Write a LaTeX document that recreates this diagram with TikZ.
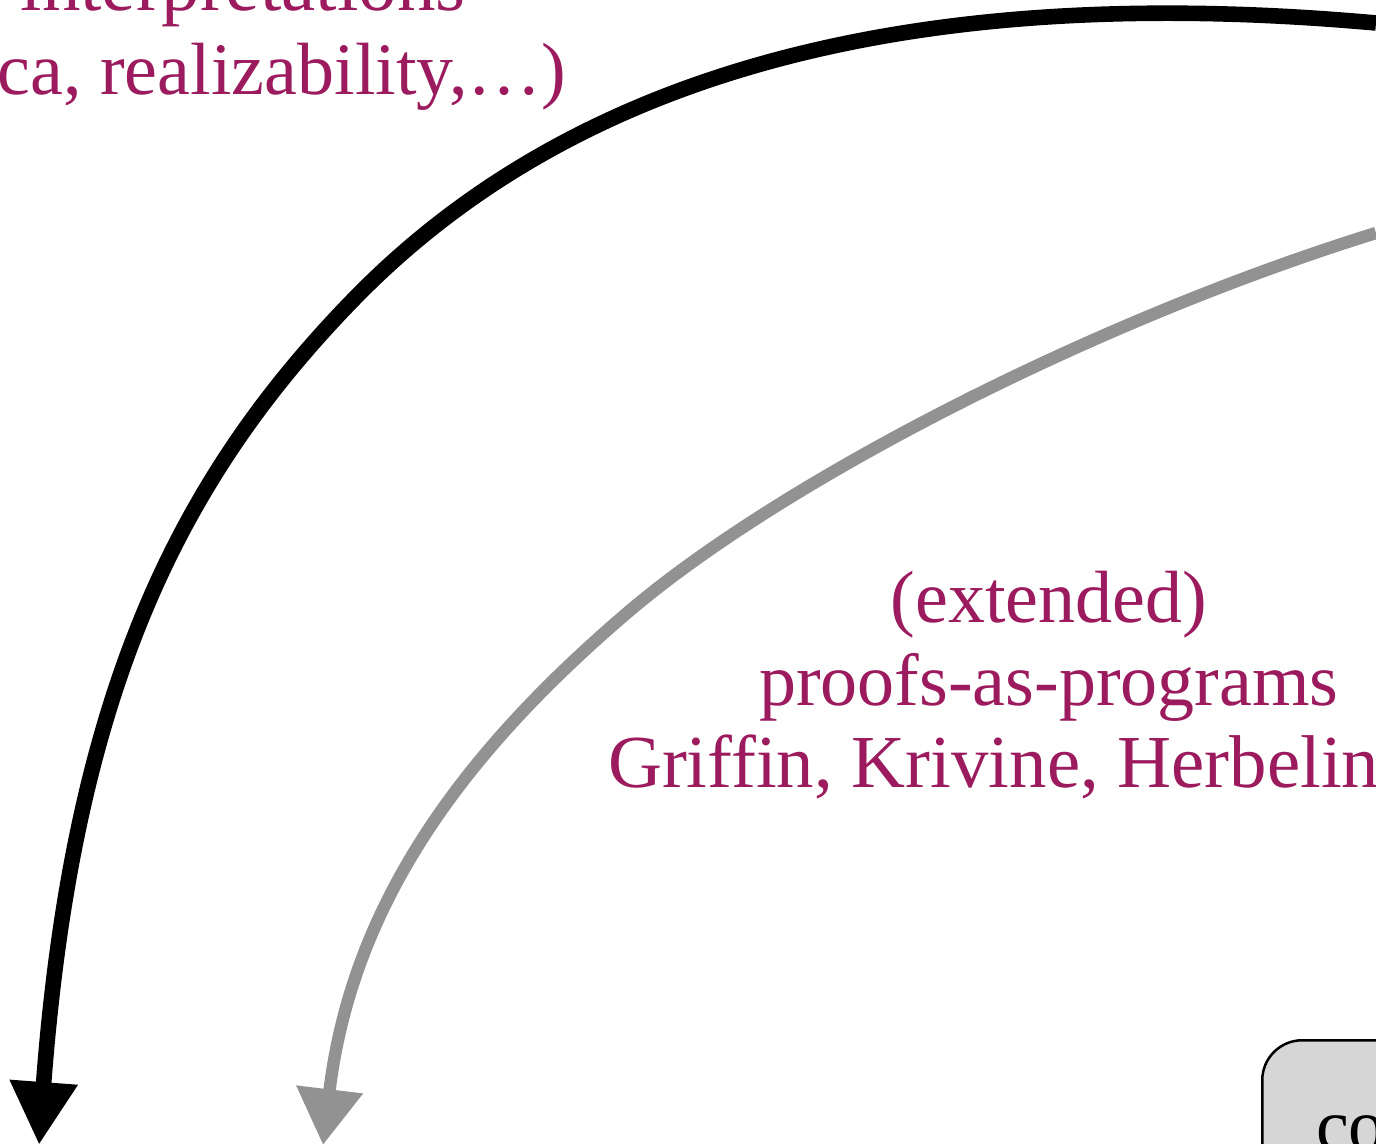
\documentclass[tikz,border=0pt]{standalone}
\usepackage{fontspec}
\setmainfont{Liberation Serif}
\usetikzlibrary{arrows.meta}
\definecolor{plum}{RGB}{155,27,94}
\definecolor{arrowgray}{RGB}{146,146,146}
\definecolor{boxgray}{RGB}{214,214,214}
\begin{document}
\begin{tikzpicture}[x=0.5pt,y=-0.5pt,
  lbl/.style={text=plum, font=\fontsize{37}{41}\selectfont, inner sep=0pt, outer sep=0pt},
  boxtxt/.style={text=black, font=\fontsize{37}{41}\selectfont, inner sep=0pt, outer sep=0pt},
  blackarrow/.style={draw=black, line width=7.8pt, -{Triangle[width=32pt,length=31.5pt]}},
  grayarrow/.style={draw=arrowgray, line width=6.2pt, -{Triangle[width=32pt,length=28pt]}},
  roundbox/.style={draw=black, fill=boxgray, line width=1.25pt, rounded corners=20pt,
    minimum width=150pt, minimum height=80pt, inner sep=0pt}]
\useasboundingbox (0,0) rectangle (1376,1144);
\clip (0,0) rectangle (1376,1144);
% labels
\node[lbl, font=\fontsize{38.5}{42}\selectfont, anchor=base] (interp) at (243,11) {interpretations};
\node[lbl, anchor=base east] (realiz) at (566,95) {ca, realizability,…)};
\node[lbl, anchor=base] (ext) at (1049,622) {(extended)};
\node[lbl, anchor=base] (pap) at (1049,705) {proofs-as-programs};
\node[lbl, font=\fontsize{37.4}{41}\selectfont, anchor=base west] (gkh) at (608,787) {Griffin, Krivine, Herbelin};
% box
\node[roundbox, anchor=north west] (box) at (1261,1039) {};
\node[boxtxt, anchor=base west] (boxtext) at (1316,1150) {co};
% connectors
\coordinate (bs) at (1376,23);
\coordinate (bm) at (353,300);
\coordinate (be) at (39,1145);
\draw[blackarrow] (bs) .. controls (876,-22) and (556,91) .. (bm)
  .. controls (178,480) and (72.75,694) .. (be);
\coordinate (gs) at (1376,233);
\coordinate (gm) at (627,613);
\coordinate (ge) at (323,1145);
\draw[grayarrow] (gs) .. controls (1089.5,322) and (779,483) .. (gm)
  .. controls (475,743) and (353,894) .. (ge);
\end{tikzpicture}
\end{document}
